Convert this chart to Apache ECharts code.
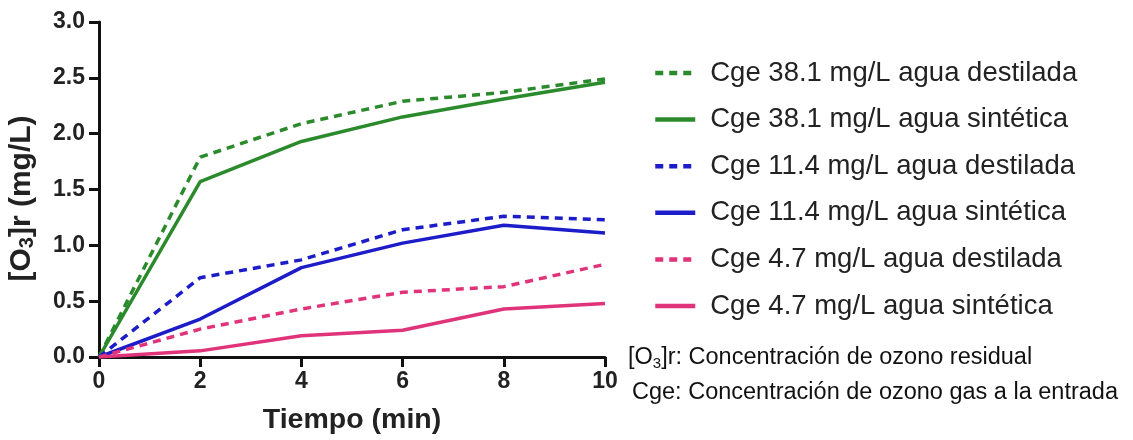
<!DOCTYPE html>
<html><head><meta charset="utf-8">
<script src="https://cdn.jsdelivr.net/npm/echarts@6/dist/echarts.min.js"></script>
<style>html,body{margin:0;padding:0;background:#fff}#c{width:1133px;height:440px}</style>
</head><body><div id="c"></div>
<script>
const times = [0, 2, 4, 6, 8, 10];
const yTicks = [0, 0.5, 1.0, 1.5, 2.0, 2.5, 3.0];
const seriesNames = [
  'Cge 38.1 mg/L agua destilada',
  'Cge 38.1 mg/L agua sintética',
  'Cge 11.4 mg/L agua destilada',
  'Cge 11.4 mg/L agua sintética',
  'Cge 4.7 mg/L agua destilada',
  'Cge 4.7 mg/L agua sintética'
];
const g38Dest = [0, 1.79, 2.09, 2.29, 2.37, 2.49];
const g38Sint = [0, 1.57, 1.93, 2.15, 2.31, 2.46];
const b11Dest = [0, 0.71, 0.87, 1.14, 1.26, 1.23];
const b11Sint = [0, 0.34, 0.80, 1.02, 1.18, 1.11];
const p47Dest = [0, 0.25, 0.43, 0.58, 0.63, 0.83];
const p47Sint = [0, 0.055, 0.19, 0.24, 0.43, 0.48];
const values = [g38Dest, g38Sint, b11Dest, b11Sint, p47Dest, p47Sint];
const colors = ['#2b8a2b', '#2b8a2b', '#1c1cc8', '#1c1cc8', '#e0337a', '#e0337a'];
const dashed = [true, false, true, false, true, false];

const FONT = 'Liberation Sans, Arial, sans-serif';
const chart = echarts.init(document.getElementById('c'));
chart.setOption({
  animation: false,
  backgroundColor: '#fff',
  grid: {left: 99, right: 528, top: 22, bottom: 80.5, containLabel: false},
  xAxis: {
    type: 'value', min: 0, max: 10, interval: 2,
    axisLine: {lineStyle: {color: '#111', width: 3}},
    axisTick: {length: 10, lineStyle: {color: '#111', width: 3}},
    axisLabel: {color: '#222', fontSize: 23, fontWeight: 'bold', fontFamily: FONT, margin: 13},
    splitLine: {show: false},
    name: 'Tiempo (min)', nameLocation: 'middle', nameGap: 49,
    nameTextStyle: {color: '#222', fontSize: 28.5, fontWeight: 'bold', fontFamily: FONT}
  },
  yAxis: {
    type: 'value', min: 0, max: 3, interval: 0.5,
    axisLine: {show: true, lineStyle: {color: '#111', width: 3}},
    axisTick: {show: true, length: 10, lineStyle: {color: '#111', width: 3}},
    axisLabel: {color: '#222', fontSize: 23, fontWeight: 'bold', fontFamily: FONT, margin: 14,
      formatter: v => v.toFixed(1)},
    splitLine: {show: false},
    name: '{a|[O}{s|3}{a|]r (mg/L)}', nameLocation: 'middle', nameGap: 62, nameRotate: 90,
    nameTextStyle: {padding: [0, 18, 0, 0], rich: {
      a: {color: '#222', fontSize: 30, fontWeight: 'bold', fontFamily: FONT},
      s: {color: '#222', fontSize: 20, fontWeight: 'bold', fontFamily: FONT, verticalAlign: 'bottom', padding: [11, 0, 0, 0]}
    }}
  },
  legend: {
    orient: 'vertical', left: 648, top: 53,
    itemWidth: 40, itemHeight: 14, itemGap: 16.6,
    itemStyle: {opacity: 0},
    lineStyle: {width: 4.5},
    textStyle: {fontSize: 27.5, lineHeight: 30, color: '#222', fontFamily: FONT, padding: [0, 0, 0, 10]},
    data: seriesNames
  },
  series: values.map((v, i) => ({
    name: seriesNames[i], type: 'line',
    data: times.map((t, j) => [t, v[j]]),
    showSymbol: false, symbol: 'none',
    lineStyle: {color: colors[i], width: 3.5, type: dashed[i] ? [8, 6] : 'solid'},
    itemStyle: {color: colors[i]},
    z: 2
  })),
  graphic: [
    {type: 'text', x: 628, y: 358, style: {
      text: '{a|[O}{s|3}{a|]r: Concentración de ozono residual}',
      verticalAlign: 'middle',
      rich: {
        a: {fontSize: 23.5, fill: '#111', fontFamily: FONT},
        s: {fontSize: 15, fill: '#111', fontFamily: FONT, verticalAlign: 'bottom', padding: [12, 0, 0, 0]}
      }}},
    {type: 'text', x: 632, y: 393, style: {
      text: 'Cge: Concentración de ozono gas a la entrada',
      verticalAlign: 'middle',
      fontSize: 23.5, fill: '#111', fontFamily: FONT}}
  ]
});
</script></body></html>
